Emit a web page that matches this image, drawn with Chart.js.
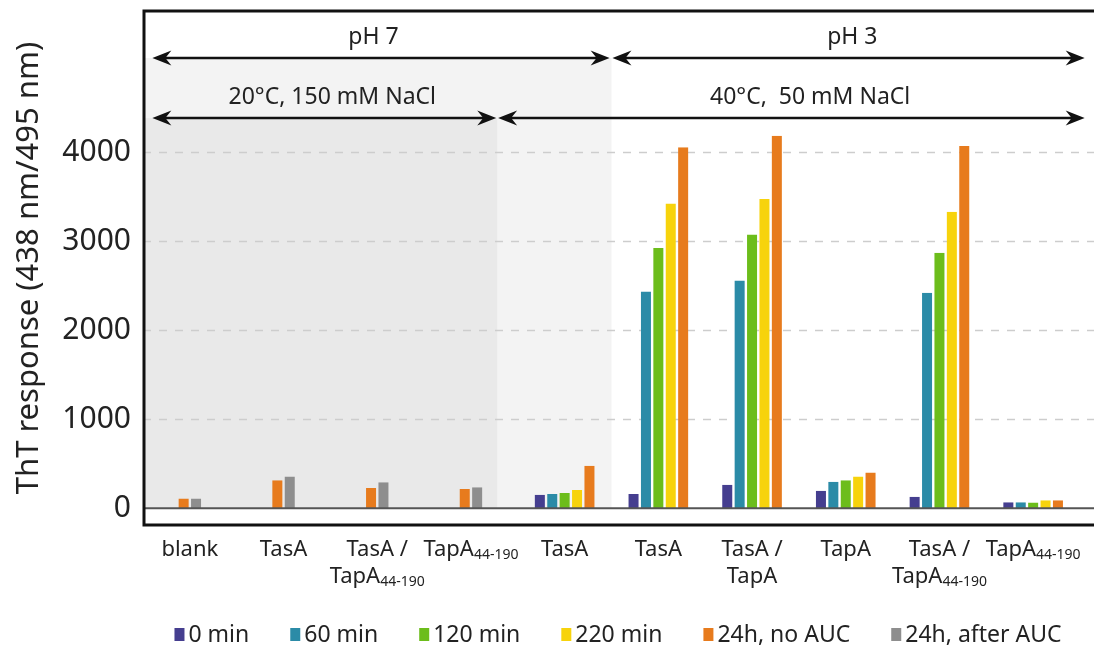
<!DOCTYPE html>
<html>
<head>
<meta charset="utf-8">
<script src="https://cdn.jsdelivr.net/npm/chart.js@4.4.1/dist/chart.umd.min.js"></script>
<style>
  html, body { margin: 0; padding: 0; background: #fff; }
  #wrap { width: 1094px; height: 650px; }
</style>
</head>
<body>
<div id="wrap"><canvas id="chart"></canvas></div>
<script>
// data ('_' starts a subscript, '\n' a second line)
const categories = ['blank', 'TasA', 'TasA /\nTapA_44-190', 'TapA_44-190', 'TasA',
                    'TasA', 'TasA /\nTapA', 'TapA', 'TasA /\nTapA_44-190', 'TapA_44-190'];
const seriesNames = ['0 min', '60 min', '120 min', '220 min', '24h, no AUC', '24h, after AUC'];
const min0 = [null, null, null, null, 150, 160, 265, 195, 130, 67];
const min60 = [null, null, null, null, 160, 2437, 2560, 296, 2422, 67];
const min120 = [null, null, null, null, 172, 2924, 3077, 315, 2871, 64];
const min220 = [null, null, null, null, 206, 3426, 3475, 356, 3332, 90];
const h24NoAuc = [109, 315, 228, 217, 476, 4056, 4187, 401, 4071, 90];
const h24AfterAuc = [109, 356, 292, 236, null, null, null, null, null, null];
const yTicks = [0, 1000, 2000, 3000, 4000];

// condition bands, in category units: [label, from, to, label centre]
const phSpans = [['pH 7', -0.4, 4.48, 1.96], ['pH 3', 4.51, 9.55, 7.07]];
const condSpans = [['20°C, 150 mM NaCl', -0.4, 3.27, 1.52], ['40°C,  50 mM NaCl', 3.29, 9.55, 6.62]];

const colors = ['#453e8f', '#2b8ba7', '#6cbd1b', '#f7d30c', '#e77b1d', '#8e8e8e'];
const FONT = '"Noto Sans", "Open Sans", sans-serif';
const PH_LEVEL = 5060;
const COND_LEVEL = 4385;

const allSeries = [min0, min60, min120, min220, h24NoAuc, h24AfterAuc];

function drawArrowHead(ctx, x, y, dir) {
    ctx.beginPath();
    ctx.moveTo(x, y);
    ctx.lineTo(x - dir * 19, y - 7.5);
    ctx.lineTo(x - dir * 13, y);
    ctx.lineTo(x - dir * 19, y + 7.5);
    ctx.closePath();
    ctx.fill();
}

function drawArrow(ctx, x0, x1, y) {
    ctx.beginPath();
    ctx.moveTo(x0 + 10, y);
    ctx.lineTo(x1 - 10, y);
    ctx.stroke();
    drawArrowHead(ctx, x0, y, -1);
    drawArrowHead(ctx, x1, y, 1);
}

function drawLabelLine(ctx, line, cx, cy, size) {
    const parts = line.split('_');
    ctx.font = size + 'px ' + FONT;
    const wMain = ctx.measureText(parts[0]).width;
    let wSub = 0;
    if (parts[1]) {
        ctx.font = Math.round(size * 0.62) + 'px ' + FONT;
        wSub = ctx.measureText(parts[1]).width;
    }
    let x = cx - (wMain + wSub) / 2;
    ctx.textAlign = 'left';
    ctx.textBaseline = 'middle';
    ctx.font = size + 'px ' + FONT;
    ctx.fillText(parts[0], x, cy);
    if (parts[1]) {
        ctx.font = Math.round(size * 0.62) + 'px ' + FONT;
        ctx.fillText(parts[1], x + wMain, cy + 5);
    }
}

const decor = {
    id: 'decor',
    beforeDatasetsDraw(chart) {
        const {ctx, chartArea, scales: {x, y}} = chart;
        const W = chart.width;
        const zeroY = y.getPixelForValue(0);
        ctx.save();
        // shaded condition blocks
        ctx.fillStyle = '#f3f3f3';
        ctx.fillRect(chartArea.left, y.getPixelForValue(PH_LEVEL),
            x.getPixelForValue(4.5) - chartArea.left, zeroY - y.getPixelForValue(PH_LEVEL));
        ctx.fillStyle = '#e9e9e9';
        ctx.fillRect(chartArea.left, y.getPixelForValue(COND_LEVEL),
            x.getPixelForValue(3.28) - chartArea.left, zeroY - y.getPixelForValue(COND_LEVEL));
        // dashed grid
        ctx.strokeStyle = '#cdcdcd';
        ctx.lineWidth = 1.5;
        ctx.setLineDash([8, 8]);
        yTicks.filter(v => v !== 0).forEach(v => {
            const py = Math.round(y.getPixelForValue(v)) + 0.5;
            ctx.beginPath();
            ctx.moveTo(chartArea.left, py);
            ctx.lineTo(W, py);
            ctx.stroke();
        });
        ctx.restore();
    },
    afterDatasetsDraw(chart) {
        const {ctx, chartArea, scales: {x, y}} = chart;
        const W = chart.width;
        const zeroY = y.getPixelForValue(0);
        ctx.save();
        // zero line
        ctx.strokeStyle = '#555';
        ctx.lineWidth = 2;
        ctx.beginPath();
        ctx.moveTo(chartArea.left, zeroY);
        ctx.lineTo(W, zeroY);
        ctx.stroke();
        // frame
        ctx.strokeStyle = '#111';
        ctx.lineWidth = 3;
        ctx.beginPath();
        ctx.moveTo(W + 2, chartArea.top + 1);
        ctx.lineTo(chartArea.left + 1, chartArea.top + 1);
        ctx.lineTo(chartArea.left + 1, chartArea.bottom - 1);
        ctx.lineTo(W + 2, chartArea.bottom - 1);
        ctx.stroke();
        // arrows and their labels
        ctx.fillStyle = '#111';
        ctx.strokeStyle = '#111';
        ctx.lineWidth = 2.5;
        [[phSpans, PH_LEVEL], [condSpans, COND_LEVEL]].forEach(([spans, level]) => {
            const py = y.getPixelForValue(level);
            spans.forEach(([label, from, to, mid]) => {
                drawArrow(ctx, x.getPixelForValue(from), x.getPixelForValue(to), py);
                ctx.font = '23px ' + FONT;
                ctx.textAlign = 'center';
                ctx.textBaseline = 'middle';
                ctx.fillStyle = '#222';
                ctx.fillText(label, x.getPixelForValue(mid), py - 21);
                ctx.fillStyle = '#111';
            });
        });
        // category labels
        ctx.fillStyle = '#222';
        categories.forEach((cat, i) => {
            const px = x.getPixelForValue(i);
            cat.split('\n').forEach((line, j) => {
                drawLabelLine(ctx, line, px, chartArea.bottom + 24 + j * 27, 22);
            });
        });
        // legend
        ctx.font = '23px ' + FONT;
        const box = 10, gapText = 4, gapItem = 41;
        const widths = seriesNames.map(s => ctx.measureText(s).width);
        const total = widths.reduce((a, b) => a + b, 0) + seriesNames.length * (box + gapText) +
            (seriesNames.length - 1) * gapItem;
        let lx = 618 - total / 2;
        const ly = chart.height - 15;
        ctx.textAlign = 'left';
        ctx.textBaseline = 'middle';
        seriesNames.forEach((s, i) => {
            ctx.fillStyle = colors[i];
            ctx.fillRect(lx, ly - 7, box, 13);
            ctx.fillStyle = '#222';
            ctx.fillText(s, lx + box + gapText, ly);
            lx += box + gapText + widths[i] + gapItem;
        });
        ctx.restore();
    }
};

new Chart(document.getElementById('chart'), {
    type: 'bar',
    plugins: [decor],
    data: {
        labels: categories,
        datasets: allSeries.map((values, i) => ({
            label: seriesNames[i],
            data: values,
            backgroundColor: colors[i],
            borderColor: 'rgba(0,0,0,0)',
            borderWidth: {left: 1.2, right: 1.2, top: 0, bottom: 0},
            borderSkipped: false,
            inflateAmount: 0,
            barThickness: 12.4,
            skipNull: true
        }))
    },
    options: {
        responsive: true,
        maintainAspectRatio: false,
        animation: false,
        devicePixelRatio: 1,
        layout: {padding: {top: 10, right: 14, bottom: 124, left: 0}},
        plugins: {legend: {display: false}, tooltip: {enabled: false}},
        scales: {
            x: {display: false},
            y: {
                min: -200,
                max: 5600,
                afterFit: scale => {
                    scale.width = 143;
                    scale.paddingTop = 0;
                    scale.paddingBottom = 0;
                },
                afterBuildTicks: scale => { scale.ticks = yTicks.map(v => ({value: v})); },
                grid: {display: false, drawTicks: false},
                border: {display: false},
                ticks: {
                    padding: 12,
                    color: '#222',
                    font: {family: FONT, size: 30},
                    callback: value => String(value)
                },
                title: {
                    display: true,
                    text: 'ThT response (438 nm/495 nm)',
                    color: '#222',
                    font: {family: FONT, size: 31},
                    padding: {top: 11, bottom: 0}
                }
            }
        }
    }
});
</script>
</body>
</html>
